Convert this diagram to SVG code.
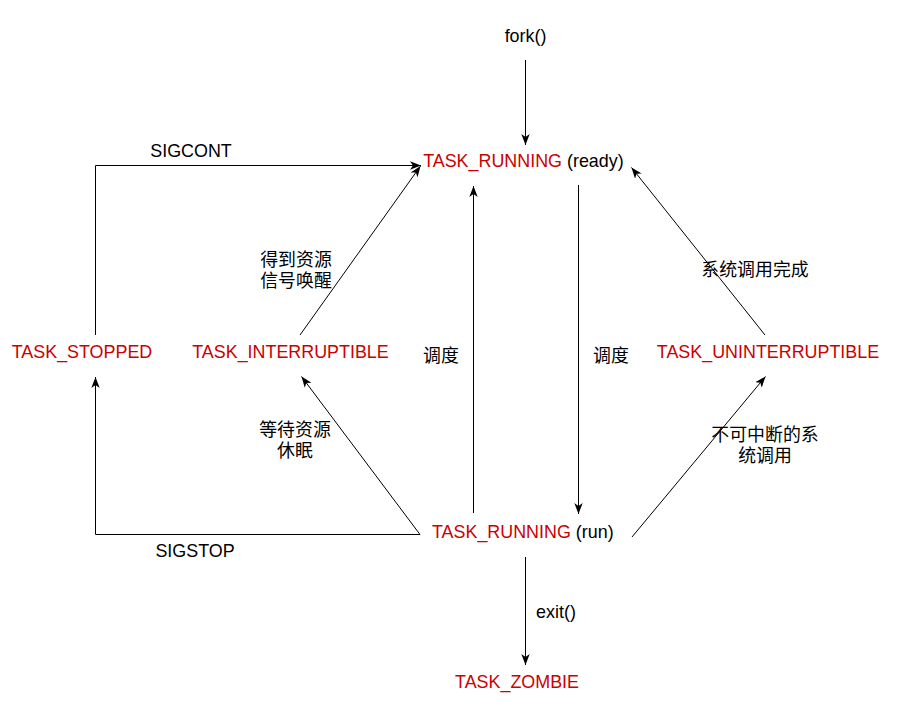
<svg xmlns="http://www.w3.org/2000/svg" width="901" height="716" viewBox="0 0 901 716">
<style>
text{font-family:"Liberation Sans","Noto Sans CJK SC",Arial,sans-serif;font-size:17.9px;fill:#000;text-anchor:middle}
.st{fill:#CC0000}
.e{fill:none;stroke:#000;stroke-width:1}
</style>
<defs>
<marker id="a" markerUnits="userSpaceOnUse" markerWidth="12" markerHeight="10" viewBox="0 0 12 10" refX="11" refY="5" orient="auto">
<path d="M0,0.8 L11,5 L0,9.2 L3,5 Z" fill="#000"/>
</marker>
</defs>
<rect width="901" height="716" fill="#fff"/>
<g id="connectors">
<path class="e" d="M525.5,60 V145" marker-end="url(#a)"/>
<path class="e" d="M95.5,335 V165.5 H421" marker-end="url(#a)"/>
<path class="e" d="M300,335 L420.5,166" marker-end="url(#a)"/>
<path class="e" d="M473.5,513 V186" marker-end="url(#a)"/>
<path class="e" d="M578.5,185 V514" marker-end="url(#a)"/>
<path class="e" d="M765,335 L631.5,167.5" marker-end="url(#a)"/>
<path class="e" d="M632,537 L765.5,376.5" marker-end="url(#a)"/>
<path class="e" d="M420,534.5 L301.5,376.5" marker-end="url(#a)"/>
<path class="e" d="M420,534.5 H95.5 V377" marker-end="url(#a)"/>
<path class="e" d="M525.5,557 V665" marker-end="url(#a)"/>
</g>
<g id="labels">
<text x="191" y="157">SIGCONT</text>
<text x="195" y="557">SIGSTOP</text>
<text x="296" y="266">得到资源</text>
<text x="296" y="287">信号唤醒</text>
<text x="295" y="436">等待资源</text>
<text x="295" y="457">休眠</text>
<text x="441" y="362">调度</text>
<text x="611" y="362">调度</text>
<text x="755" y="276">系统调用完成</text>
<text x="765" y="441">不可中断的系</text>
<text x="765" y="462">统调用</text>
<text x="556" y="618">exit()</text>
</g>
<g id="fork"><text x="525.5" y="42">fork()</text></g>
<g id="running-ready"><text x="523.4" y="167"><tspan class="st">TASK_RUNNING</tspan> (ready)</text></g>
<g id="running-run"><text x="522.8" y="538"><tspan class="st">TASK_RUNNING</tspan> (run)</text></g>
<g id="stopped"><text class="st" x="82" y="358">TASK_STOPPED</text></g>
<g id="interruptible"><text class="st" x="290.5" y="358">TASK_INTERRUPTIBLE</text></g>
<g id="uninterruptible"><text class="st" x="768" y="358">TASK_UNINTERRUPTIBLE</text></g>
<g id="zombie"><text class="st" x="517" y="688">TASK_ZOMBIE</text></g>
</svg>
